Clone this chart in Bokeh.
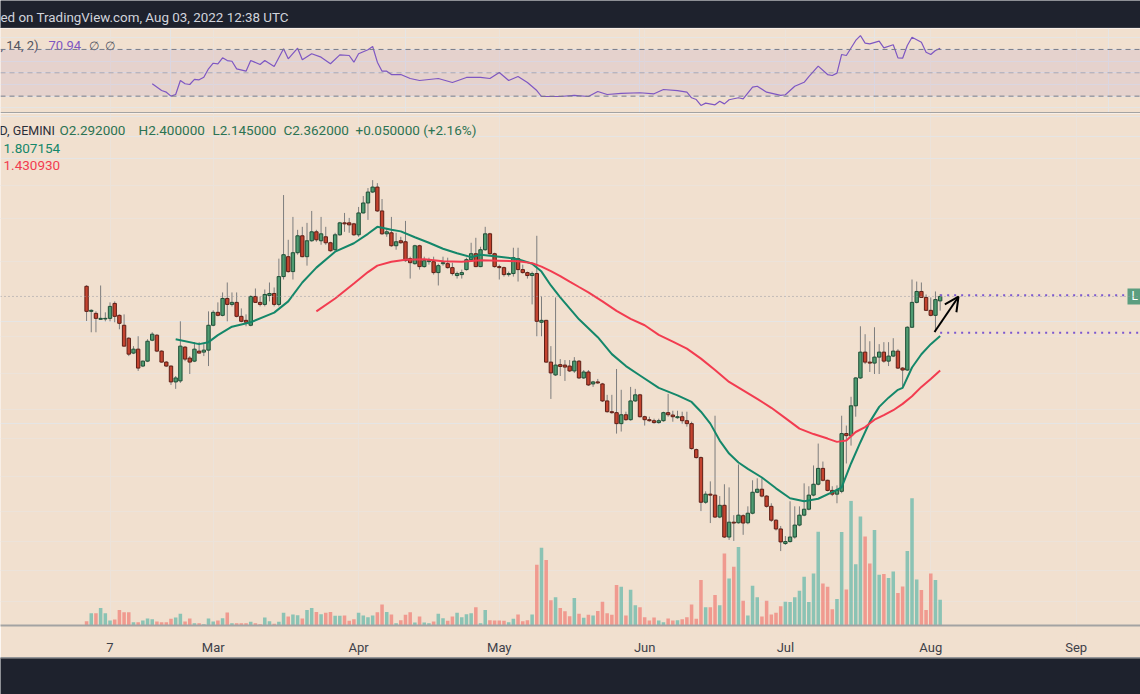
import math
import pandas as pd
from bokeh.plotting import figure
from bokeh.layouts import column
from bokeh.models import Range1d, LinearScale, FixedTicker, Grid, Span, BoxAnnotation, Arrow, OpenHead
from bokeh.core.properties import value
from bokeh.embed import file_html
from bokeh.resources import INLINE

# ---------------- data (LDOUSD, 1D, GEMINI) ----------------
first_date = "2022-02-02"

opens = [2.53, 2.135, 2.106, 2.023, 2.028, 2.036, 2.253, 2.078, 1.943, 1.780,
         1.609, 1.653, 1.474, 1.524, 1.756, 1.817, 1.631, 1.514, 1.474, 1.324,
         1.333, 1.676, 1.556, 1.524, 1.631, 1.620, 1.642, 1.943, 2.121, 2.078,
         2.330, 2.238, 2.269, 2.064, 2.009, 1.943, 2.362, 2.269, 2.238, 2.378,
         2.410, 2.238, 2.702, 3.092, 2.795, 3.176, 3.562, 3.092, 3.444, 3.659,
         3.444, 3.538, 3.398, 3.241, 3.586, 3.888, 3.888, 3.862, 3.586, 4.158,
         4.448, 4.790, 4.954, 4.215, 3.610, 3.635, 3.330, 3.444, 3.421, 3.051,
         2.949, 3.330, 2.891, 2.990, 2.989, 2.776, 2.949, 2.949, 2.871, 2.721,
         2.739, 2.833, 3.030, 3.155, 2.891, 3.241, 3.610, 3.155, 2.891, 2.871,
         2.739, 2.758, 3.051, 2.833, 2.776, 2.721, 2.758, 1.983, 2.009, 1.514,
         1.388, 1.488, 1.484, 1.474, 1.426, 1.524, 1.360, 1.416, 1.306, 1.324,
         1.306, 1.164, 1.082, 1.075, 0.998, 1.060, 1.025, 1.164, 1.213, 1.046,
         1.025, 1.018, 1.005, 1.018, 1.075, 1.058, 1.039, 1.046, 1.018, 0.998,
         0.837, 0.793, 0.586, 0.619, 0.615, 0.530, 0.574, 0.463, 0.512, 0.510,
         0.535, 0.510, 0.544, 0.627, 0.640, 0.611, 0.570, 0.519, 0.489, 0.443,
         0.449, 0.463, 0.502, 0.537, 0.559, 0.615, 0.662, 0.737, 0.680, 0.635,
         0.619, 0.631, 0.933, 0.920, 1.126, 1.360, 1.620, 1.514, 1.504, 1.566,
         1.620, 1.524, 1.577, 1.631, 1.454, 1.435, 1.917, 2.269, 2.443, 2.346,
         2.150, 2.078, 2.292]
highs = [2.55, 2.164, 2.135, 2.544, 2.121, 2.269, 2.284, 2.092, 2.092, 1.792,
         1.687, 1.804, 1.530, 1.768, 1.853, 1.829, 1.640, 1.524, 1.480, 1.378,
         1.996, 1.687, 1.577, 1.733, 1.733, 1.710, 2.135, 2.150, 2.269, 2.427,
         2.596, 2.427, 2.427, 2.178, 2.092, 2.378, 2.493, 2.362, 2.476, 2.596,
         2.510, 3.051, 4.694, 3.467, 4.048, 3.709, 3.785, 3.888, 4.215, 3.709,
         4.048, 3.785, 3.421, 3.635, 3.914, 4.158, 4.021, 3.888, 4.330, 4.663,
         4.921, 5.193, 5.089, 4.569, 3.759, 4.048, 3.635, 3.538, 3.940, 3.092,
         3.352, 3.352, 3.092, 3.071, 3.092, 2.949, 3.092, 3.071, 2.969, 2.795,
         2.833, 3.071, 3.398, 3.514, 3.307, 3.785, 3.635, 3.176, 2.930, 2.891,
         2.795, 3.285, 3.285, 2.930, 2.795, 2.795, 3.562, 2.362, 2.015, 1.687,
         2.346, 1.545, 1.535, 1.535, 1.566, 1.535, 1.435, 1.435, 1.333, 1.351,
         1.315, 1.213, 1.213, 1.445, 1.255, 1.082, 1.280, 1.263, 1.221, 1.053,
         1.046, 1.032, 1.032, 1.082, 1.221, 1.089, 1.089, 1.082, 1.082, 1.011,
         0.843, 0.799, 0.631, 0.675, 1.053, 0.611, 0.662, 0.648, 0.537, 0.757,
         0.540, 0.570, 0.680, 0.689, 0.689, 0.615, 0.582, 0.522, 0.499, 0.466,
         0.590, 0.570, 0.570, 0.666, 0.653, 0.752, 0.872, 0.772, 0.683, 0.653,
         0.657, 1.053, 0.985, 1.197, 1.366, 1.930, 1.829, 1.744, 1.917, 1.710,
         1.733, 1.733, 1.780, 1.653, 1.464, 1.930, 2.649, 2.613, 2.596, 2.394,
         2.346, 2.443, 2.400]
lows = [2.00, 1.853, 1.853, 2.020, 1.996, 1.996, 1.983, 1.891, 1.685, 1.577,
        1.598, 1.426, 1.464, 1.514, 1.744, 1.620, 1.508, 1.464, 1.297, 1.263,
        1.315, 1.524, 1.397, 1.514, 1.605, 1.577, 1.474, 1.930, 2.064, 2.064,
        1.996, 2.208, 2.050, 1.983, 1.930, 1.930, 2.260, 2.208, 2.208, 2.284,
        2.208, 2.208, 2.649, 2.776, 2.649, 3.134, 3.080, 2.910, 3.421, 3.421,
        3.352, 3.352, 3.198, 3.219, 3.562, 3.659, 3.635, 3.562, 3.538, 4.145,
        3.967, 4.758, 4.186, 3.586, 3.538, 3.307, 3.241, 3.375, 2.989, 2.666,
        2.930, 2.833, 2.871, 2.930, 2.739, 2.544, 2.910, 2.852, 2.721, 2.666,
        2.666, 2.814, 2.989, 2.880, 2.880, 3.219, 3.134, 2.871, 2.649, 2.702,
        2.702, 2.702, 2.613, 2.758, 2.666, 2.238, 1.804, 1.804, 1.508, 1.180,
        1.378, 1.378, 1.333, 1.416, 1.407, 1.351, 1.351, 1.288, 1.280, 1.306,
        1.156, 1.075, 1.067, 0.933, 0.946, 1.018, 1.018, 1.156, 1.040, 0.985,
        1.011, 0.998, 0.998, 1.011, 1.046, 1.011, 1.032, 0.998, 0.978, 0.837,
        0.788, 0.552, 0.580, 0.509, 0.527, 0.526, 0.460, 0.454, 0.451, 0.507,
        0.470, 0.505, 0.540, 0.623, 0.606, 0.565, 0.513, 0.484, 0.421, 0.439,
        0.446, 0.458, 0.498, 0.533, 0.555, 0.610, 0.657, 0.675, 0.631, 0.611,
        0.582, 0.623, 0.762, 0.860, 1.046, 1.351, 1.494, 1.416, 1.397, 1.397,
        1.508, 1.474, 1.566, 1.445, 1.280, 1.426, 1.910, 2.253, 2.340, 2.140,
        2.064, 1.853, 2.145]
closes = [2.135, 2.150, 2.036, 2.036, 2.036, 2.208, 2.064, 1.969, 1.687, 1.598,
          1.653, 1.454, 1.524, 1.744, 1.829, 1.631, 1.514, 1.474, 1.324, 1.360,
          1.687, 1.545, 1.514, 1.653, 1.609, 1.642, 1.943, 2.121, 2.078, 2.330,
          2.238, 2.269, 2.064, 1.996, 1.983, 2.362, 2.269, 2.238, 2.394, 2.410,
          2.238, 2.702, 3.134, 2.795, 3.176, 3.562, 3.092, 3.444, 3.659, 3.467,
          3.610, 3.398, 3.219, 3.586, 3.888, 3.862, 3.836, 3.586, 4.158, 4.448,
          4.790, 4.954, 4.215, 3.610, 3.659, 3.330, 3.421, 3.398, 3.010, 2.969,
          3.330, 2.891, 3.010, 3.010, 2.776, 2.910, 2.969, 2.871, 2.758, 2.758,
          2.776, 3.030, 3.155, 2.891, 3.241, 3.610, 3.155, 2.891, 2.871, 2.739,
          2.758, 3.071, 2.833, 2.776, 2.721, 2.758, 1.996, 2.009, 1.514, 1.407,
          1.484, 1.470, 1.464, 1.426, 1.524, 1.360, 1.416, 1.297, 1.324, 1.315,
          1.164, 1.082, 1.075, 0.998, 1.060, 1.025, 1.164, 1.213, 1.046, 1.025,
          1.018, 1.005, 1.018, 1.075, 1.060, 1.046, 1.046, 1.018, 0.998, 0.843,
          0.793, 0.586, 0.619, 0.615, 0.530, 0.574, 0.463, 0.512, 0.509, 0.537,
          0.509, 0.544, 0.627, 0.640, 0.611, 0.570, 0.519, 0.489, 0.448, 0.449,
          0.463, 0.502, 0.537, 0.559, 0.615, 0.662, 0.737, 0.680, 0.635, 0.619,
          0.635, 0.933, 0.920, 1.126, 1.360, 1.620, 1.514, 1.504, 1.566, 1.620,
          1.524, 1.577, 1.631, 1.454, 1.435, 1.917, 2.269, 2.443, 2.346, 2.150,
          2.078, 2.312, 2.362]
volumes = [4.3, 12.3, 12.3, 17.7, 12.3, 5.0, 6.0, 15.7, 13.3, 13.3,
           3.3, 3.3, 5.0, 7.0, 6.3, 4.0, 3.3, 3.3, 6.7, 8.0,
           11.7, 4.0, 7.0, 2.3, 2.3, 1.3, 7.0, 4.0, 5.0, 7.3,
           13.0, 2.3, 2.3, 2.3, 2.3, 3.7, 2.3, 1.3, 8.0, 4.3,
           1.7, 3.7, 12.7, 9.0, 11.0, 10.3, 7.0, 15.7, 17.7, 13.7,
           11.3, 12.7, 13.7, 9.7, 9.7, 10.0, 4.7, 6.3, 12.7, 10.0,
           8.3, 10.0, 13.3, 21.0, 13.7, 11.0, 2.3, 5.3, 10.7, 13.3,
           3.0, 9.0, 3.0, 2.3, 4.0, 11.7, 7.3, 4.7, 9.0, 12.7,
           8.3, 11.3, 12.3, 18.3, 2.3, 15.7, 5.3, 5.0, 5.0, 4.7,
           3.3, 6.7, 11.0, 4.3, 5.3, 11.0, 61.0, 78.3, 66.0, 25.3,
           28.3, 17.5, 14.3, 9.2, 27.7, 11.7, 7.7, 10.7, 10.0, 14.7,
           24.0, 12.3, 10.7, 40.7, 39.0, 10.0, 36.0, 20.3, 18.3, 8.3,
           5.0, 8.0, 5.0, 3.3, 7.0, 5.0, 5.3, 6.3, 8.3, 21.0,
           6.7, 45.7, 18.3, 18.3, 30.7, 20.3, 72.3, 47.3, 59.0, 79.0,
           25.0, 10.0, 40.0, 28.3, 9.0, 25.0, 11.0, 12.7, 19.3, 24.0,
           23.7, 28.3, 35.0, 49.0, 23.7, 52.3, 94.3, 42.3, 39.0, 16.3,
           26.7, 94.0, 36.3, 125.3, 61.7, 109.7, 89.5, 62.3, 96.0, 51.0,
           51.7, 47.7, 54.3, 32.7, 39.3, 75.0, 128.0, 46.3, 35.7, 15.7,
           52.3, 45.7, 26.0]

# moving averages, read at these candle indices
ma20_idx = [19, 24, 26, 28, 31, 35, 40, 43, 46, 49, 53, 57, 60, 62, 65, 67, 70, 73, 76, 79,
            82, 84, 88, 92, 95, 97, 99, 101, 103, 105, 107, 109, 112, 115, 118, 122, 126, 129,
            131, 133, 135, 137, 139, 141, 144, 147, 150, 153, 156, 159, 161, 163, 165, 167, 169,
            171, 173, 174, 176, 178, 180, 182]
ma20_val = [1.768, 1.710, 1.733, 1.817, 1.924, 1.983, 2.117, 2.284, 2.596, 2.871, 3.198, 3.386,
            3.610, 3.785, 3.709, 3.670, 3.526, 3.398, 3.263, 3.166, 3.082, 3.134, 3.092, 3.041,
            2.949, 2.795, 2.544, 2.346, 2.178, 2.023, 1.904, 1.792, 1.598, 1.474, 1.383, 1.271,
            1.209, 1.156, 1.082, 0.998, 0.890, 0.815, 0.767, 0.735, 0.693, 0.644, 0.602, 0.590,
            0.600, 0.628, 0.648, 0.762, 0.880, 1.010, 1.118, 1.190, 1.255, 1.271, 1.460, 1.597,
            1.710, 1.807154]
ma50_idx = [49, 53, 57, 60, 62, 65, 68, 72, 76, 80, 84, 88, 92, 95, 97, 99, 101, 103, 105, 107,
            110, 113, 116, 119, 122, 125, 128, 131, 134, 137, 140, 143, 146, 149, 152, 155, 158,
            160, 162, 164, 166, 168, 170, 172, 174, 176, 178, 180, 182]
ma50_val = [2.135, 2.330, 2.578, 2.786, 2.910, 2.989, 3.030, 3.041, 3.000, 2.990, 3.020, 3.010,
            3.000, 2.960, 2.891, 2.805, 2.712, 2.613, 2.518, 2.427, 2.284, 2.142, 2.030, 1.943,
            1.821, 1.739, 1.659, 1.550, 1.435, 1.324, 1.250, 1.180, 1.111, 1.036, 0.965, 0.930,
            0.902, 0.882, 0.890, 0.943, 0.975, 1.025, 1.057, 1.093, 1.141, 1.201, 1.280, 1.351,
            1.430930]

# RSI read at these candle indices
rsi_idx = [14, 16, 17, 18, 19, 20, 21, 22, 23, 24, 25, 26, 27, 28, 29, 30, 31, 32, 34, 35,
           37, 38, 40, 42, 43, 45, 46, 48, 50, 52, 54, 56, 57, 58, 60, 61, 62, 63, 64, 65,
           67, 69, 71, 75, 78, 81, 84, 86, 88, 90, 92, 94, 96, 97, 101, 104, 107, 109, 111,
           114, 118, 121, 123, 126, 128, 129, 130, 131, 132, 134, 135, 136, 137, 139, 140,
           142, 143, 145, 148, 149, 151, 153, 154, 156, 158, 159, 160, 161, 162, 164, 165,
           166, 167, 169, 170, 172, 173, 174, 175, 176, 178, 179, 180, 181, 182]
rsi_val = [40.6, 34.8, 33.4, 30.0, 31.4, 43.4, 40.6, 40.0, 44.3, 44.0, 46.2, 53.4, 58.2, 57.7,
           62.8, 60.5, 59.9, 53.4, 51.4, 60.5, 57.1, 60.5, 55.4, 70.6, 62.0, 71.1, 61.1, 66.3,
           63.4, 57.7, 65.4, 64.8, 59.1, 66.3, 69.7, 72.5, 59.1, 51.4, 51.4, 48.5, 48.5, 45.1,
           43.4, 45.1, 41.7, 46.0, 46.0, 45.1, 50.3, 43.4, 46.8, 41.7, 34.8, 29.7, 29.7, 30.6,
           29.7, 34.0, 31.4, 32.3, 32.9, 32.0, 35.7, 34.8, 33.4, 28.6, 27.1, 22.0, 24.0, 22.6,
           25.7, 23.4, 26.9, 28.6, 27.7, 37.7, 38.5, 33.4, 30.6, 31.2, 38.5, 41.9, 46.8, 55.7,
           48.5, 47.7, 49.7, 65.7, 64.8, 77.7, 81.9, 75.4, 74.8, 77.1, 71.4, 74.0, 62.8, 62.5,
           73.4, 80.5, 76.2, 67.6, 65.7, 69.1, 70.94]

tick_dates = ["2022-02-07", "2022-03-01", "2022-04-01", "2022-05-01",
              "2022-06-01", "2022-07-01", "2022-08-01", "2022-09-01"]
tick_labels = ["7", "Mar", "Apr", "May", "Jun", "Jul", "Aug", "Sep"]
price_grid = [5.0, 4.0, 3.0, 1.8, 1.4, 1.1, 0.9, 0.7, 0.55, 0.45, 0.37, 0.3]
level_high = 2.383
level_low = 1.847

# ---------------- styling ----------------
BG = "#f1e0cf"
GRID = "#ece3da"
DARK = "#1e222d"
SEP = "#a3a3a3"
UP_FILL, UP_LINE = "#4f9b71", "#1f4f37"
DN_FILL, DN_LINE = "#c4432f", "#5e1f16"
WICK = "#7d7d7d"
MA20_C = "#14876a"
MA50_C = "#f23c50"
RSI_C = "#7e57c2"
TXT_UP = "#2b7354"
FONT = "Roboto"

base = pd.Timestamp("2022-01-01")
def day(s):
    return (pd.Timestamp(s) - base).days

dates = pd.date_range(first_date, periods=len(closes), freq="D")
xs = [(d - base).days for d in dates]
x0 = xs[0]
tick_days = [day(t) for t in tick_dates]

# layout geometry (page px, page has no margin)
W, H = 1140, 694
X_START = 59 - 212.7 / 4.69
X_END = 59 + (W - 212.7) / 4.69
P_TOP, P_BOT = 8.155, 0.2543
R_TOP, R_BOT = 87.94, 15.14

def px_x(px):
    return X_START + px * (X_END - X_START) / W

def px_price(py):
    lt, lb = math.log(P_TOP), math.log(P_BOT)
    return math.exp(lt - (py - 113) * (lt - lb) / 515)

def px_rsi(py):
    return R_TOP - (py - 28) * (R_TOP - R_BOT) / 85

xr = Range1d(X_START, X_END)

# ---------------- header bar ----------------
hdr = figure(width=W, height=28, x_range=Range1d(0, W), y_range=Range1d(28, 0),
             x_axis_location=None, y_axis_location=None, toolbar_location=None,
             output_backend="svg", min_border=0, background_fill_color=DARK,
             border_fill_color=DARK, outline_line_color=None)
hdr.xgrid.visible = False
hdr.ygrid.visible = False
hdr.text(x=[0], y=[16.5], text=["ed on TradingView.com, Aug 03, 2022 12:38 UTC"],
         text_font=value(FONT), text_font_size=value("13.4px"), text_color="#d1d4dc",
         text_baseline="middle", text_align="left")
hdr.add_layout(Span(location=27.5, dimension="width", line_color="#4a4e59", line_width=1))

# ---------------- RSI pane ----------------
r = figure(width=W, height=85, x_range=xr, y_range=Range1d(R_BOT, R_TOP),
           x_axis_location=None, y_axis_location=None, toolbar_location=None,
           output_backend="svg", min_border=0, background_fill_color=BG,
           border_fill_color=BG, outline_line_color=None)
r.add_layout(Grid(dimension=0, ticker=FixedTicker(ticks=tick_days), grid_line_color=GRID))
r.add_layout(BoxAnnotation(bottom=30, top=70, fill_color=RSI_C, fill_alpha=0.1, line_color=None))
r.add_layout(Span(location=70, dimension="width", line_color="#787b86", line_dash="5 4", line_width=1))
r.add_layout(Span(location=50, dimension="width", line_color="#787b86", line_alpha=0.5, line_dash="5 4", line_width=1))
r.add_layout(Span(location=30, dimension="width", line_color="#787b86", line_dash="5 4", line_width=1))
r.line([x0 + i for i in rsi_idx], rsi_val, line_color=RSI_C, line_width=1.2)
r.add_layout(Span(location=px_rsi(112.5), dimension="width", line_color=SEP, line_width=2))
ry = px_rsi(45)
r.text(x=[px_x(0)], y=[ry], text=[", 14, 2)"], text_font=value(FONT), text_font_size=value("13px"),
       text_color="#50535e", text_baseline="middle")
r.text(x=[px_x(48)], y=[ry], text=[f"{rsi_val[-1]:.2f}"], text_font=value(FONT),
       text_font_size=value("13px"), text_color=RSI_C, text_baseline="middle")
r.text(x=[px_x(88), px_x(104)], y=[ry, ry], text=["\u2205", "\u2205"], text_font=value(FONT),
       text_font_size=value("12px"), text_color="#50535e", text_baseline="middle")

# ---------------- main pane ----------------
p = figure(width=W, height=515 + 29, x_range=xr, y_range=Range1d(P_BOT, P_TOP),
           y_axis_type="log", y_axis_location=None, toolbar_location=None,
           output_backend="svg", min_border_left=0, min_border_right=0, min_border_top=0,
           min_border_bottom=29, background_fill_color=BG, border_fill_color=BG,
           outline_line_color=None)
p.extra_y_ranges = {"vol": Range1d(0, 515)}
p.extra_y_scales = {"vol": LinearScale()}

p.xaxis.ticker = FixedTicker(ticks=tick_days)
p.xaxis.major_label_overrides = {d: lab for d, lab in zip(tick_days, tick_labels)}
p.xaxis.major_tick_line_color = None
p.xaxis.minor_tick_line_color = None
p.xaxis.axis_line_color = SEP
p.xaxis.axis_line_width = 2
p.xaxis.major_label_standoff = 8
p.xaxis.major_label_text_font = FONT
p.xaxis.major_label_text_font_size = "13px"
p.xaxis.major_label_text_color = "#3e4149"
p.xgrid.grid_line_color = GRID
p.add_layout(Grid(dimension=1, ticker=FixedTicker(ticks=price_grid), grid_line_color=GRID))

up = [c >= o for o, c in zip(opens, closes)]
vol_colors = ["#26a69a" if u else "#ef5350" for u in up]
p.vbar(x=xs, width=0.75, bottom=0, top=volumes, y_range_name="vol",
       fill_color=vol_colors, fill_alpha=0.5, line_color=None)

p.add_layout(Span(location=closes[-1], dimension="width", line_color="#9598a1",
                  line_dash="1 3", line_width=1))

p.segment(x0=xs, y0=lows, x1=xs, y1=highs, line_color=WICK, line_width=1)
p.vbar(x=xs, width=0.72, bottom=[min(o, c) for o, c in zip(opens, closes)],
       top=[max(o, c) for o, c in zip(opens, closes)],
       fill_color=[UP_FILL if u else DN_FILL for u in up],
       line_color=[UP_LINE if u else DN_LINE for u in up], line_width=1)

p.line([x0 + i for i in ma20_idx], ma20_val, line_color=MA20_C, line_width=2)
p.line([x0 + i for i in ma50_idx], ma50_val, line_color=MA50_C, line_width=2)

# horizontal levels and drawn arrow
p.line([xs[-1], px_x(1127)], [level_high, level_high], line_color="#7b57d1",
       line_width=2, line_dash="2 5")
p.line([xs[-1], X_END + 2], [level_low, level_low], line_color="#7b57d1",
       line_width=2, line_dash="2 5")
p.add_layout(Arrow(x_start=px_x(934), y_start=level_low * 1.005, x_end=px_x(958),
                   y_end=closes[-1] * 0.998, line_color="black", line_width=2,
                   end=OpenHead(size=14, line_color="black", line_width=2)))
p.quad(left=[px_x(1127)], right=[X_END + 5], top=[px_price(289)], bottom=[px_price(305)],
       fill_color="#5c9e80", line_color=None)
p.text(x=[px_x(1131)], y=[closes[-1]], text=["L"], text_font=value(FONT),
       text_font_size=value("12px"), text_color="white", text_baseline="middle")

# legend-like header texts
O, Hh, L, C = opens[-1], highs[-1], lows[-1], closes[-1]
chg = C - closes[-2]
pct = chg / closes[-2] * 100
hy = px_price(130)
p.text(x=[px_x(-1)], y=[hy], text=["D, GEMINI"], text_font=value(FONT),
       text_font_size=value("12.5px"), text_color="#2a2e39", text_baseline="middle")
segs = [(f"O{O:.6f}", 59), (f"H{Hh:.6f}", 138), (f"L{L:.6f}", 212), (f"C{C:.6f}", 283),
        (f"+{chg:.6f} (+{pct:.2f}%)", 355)]
for t, xpx in segs:
    p.text(x=[px_x(xpx)], y=[hy], text=[t], text_font=value(FONT), text_font_size=value("13.5px"),
           text_color=TXT_UP, text_baseline="middle")
p.text(x=[px_x(3)], y=[px_price(148)], text=[f"{ma20_val[-1]:.6f}"], text_font=value(FONT),
       text_font_size=value("13.5px"), text_color=MA20_C, text_baseline="middle")
p.text(x=[px_x(3)], y=[px_price(165)], text=[f"{ma50_val[-1]:.6f}"], text_font=value(FONT),
       text_font_size=value("13.5px"), text_color=MA50_C, text_baseline="middle")

# ---------------- footer bar ----------------
ftr = figure(width=W, height=37, x_range=Range1d(0, W), y_range=Range1d(694, 657),
             x_axis_location=None, y_axis_location=None, toolbar_location=None,
             output_backend="svg", min_border=0, background_fill_color=DARK,
             border_fill_color=DARK, outline_line_color=None)
ftr.xgrid.visible = False
ftr.ygrid.visible = False
ftr.add_layout(Span(location=657.5, dimension="width", line_color=SEP, line_width=1))

layout = column(hdr, r, p, ftr, spacing=0)
open("out.html", "w").write(file_html(layout, INLINE))
